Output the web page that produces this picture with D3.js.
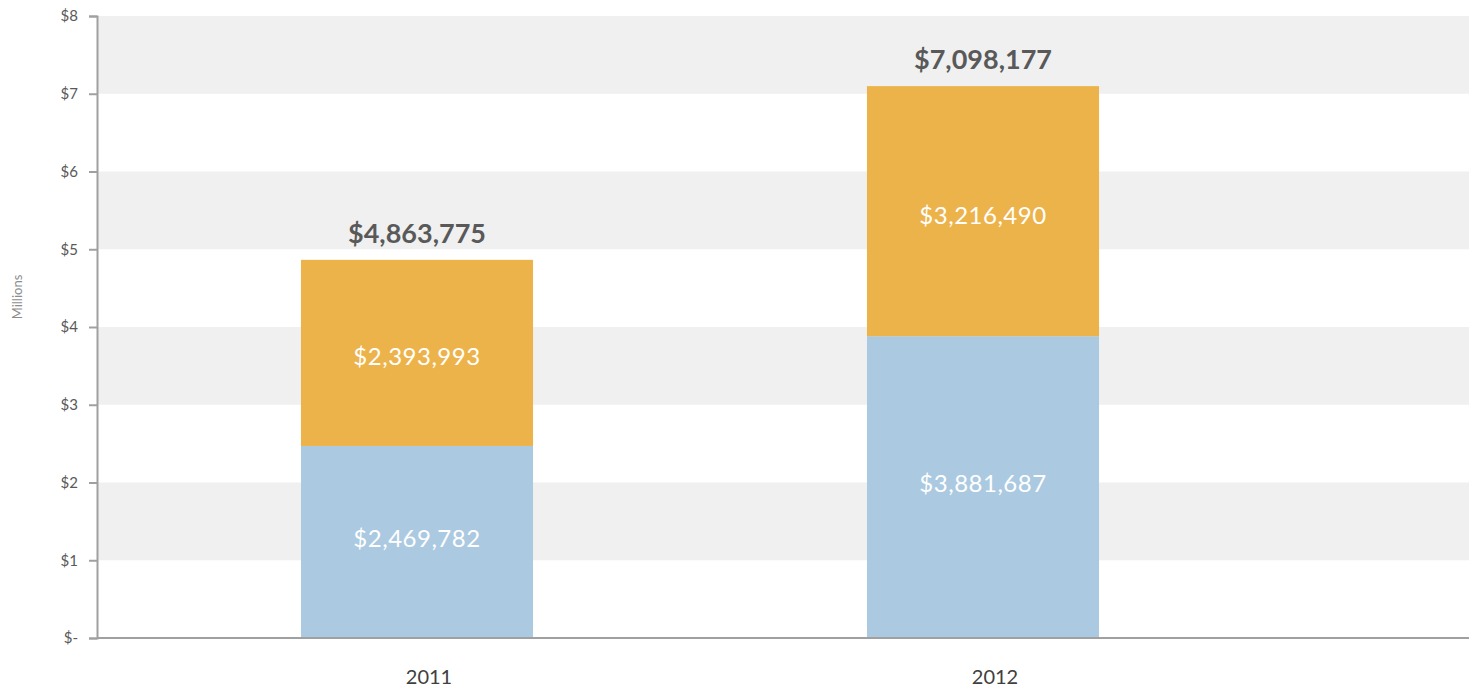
<!DOCTYPE html>
<html><head><meta charset="utf-8">
<script src="https://cdn.jsdelivr.net/npm/d3@7"></script>
<style>body{margin:0;background:#fff;}svg{display:block;font-family:Lato,"Open Sans",sans-serif;}</style>
</head><body>
<svg id="chart" width="1477" height="690"></svg>
<script>
const categories = ["2011", "2012"];
const seriesBlue = [2469782, 3881687];
const seriesOrange = [2393993, 3216490];
const totals = [4863775, 7098177];
const yTicks = [0,1,2,3,4,5,6,7,8];
const yTickLabels = ["$-","$1","$2","$3","$4","$5","$6","$7","$8"];

(function(){
const svg = d3.select("#chart");
const pLeft = 97, pRight = 1469, pTop = 16, pBottom = 638;
const y = d3.scaleLinear().domain([0, 8]).range([pBottom, pTop]);
const x = d3.scaleBand().domain(categories).range([134, 1266]).paddingInner(0.59).paddingOuter(0.295);

for (let i = 0; i < 8; i++) {
  if (i % 2 === 1) {
    svg.append("rect").attr("x", pLeft).attr("width", pRight - pLeft)
      .attr("y", y(i + 1)).attr("height", y(i) - y(i + 1)).attr("fill", "#f0f0f0");
  }
}

const toM = v => v / 1e6;
const fmt = v => "$" + d3.format(",")(v);
categories.forEach((c, i) => {
  const b = toM(seriesBlue[i]), t = toM(seriesBlue[i] + seriesOrange[i]);
  svg.append("rect").attr("x", x(c)).attr("width", x.bandwidth())
    .attr("y", y(b)).attr("height", y(0) - y(b)).attr("fill", "#abcae1");
  svg.append("rect").attr("x", x(c)).attr("width", x.bandwidth())
    .attr("y", y(t)).attr("height", y(b) - y(t)).attr("fill", "#edb34b");
  const cx = x(c) + x.bandwidth() / 2;
  svg.append("text").attr("x", cx).attr("y", (y(0) + y(b)) / 2 - 3).attr("dy", "0.35em")
    .attr("text-anchor", "middle").attr("fill", "#fff").attr("font-size", 24).attr("letter-spacing", 0.5).text(fmt(seriesBlue[i]));
  svg.append("text").attr("x", cx).attr("y", (y(b) + y(t)) / 2 + 4).attr("dy", "0.35em")
    .attr("text-anchor", "middle").attr("fill", "#fff").attr("font-size", 24).attr("letter-spacing", 0.5).text(fmt(seriesOrange[i]));
  svg.append("text").attr("x", cx).attr("y", y(toM(totals[i])) - 17)
    .attr("text-anchor", "middle").attr("fill", "#595959").attr("font-size", 27).attr("font-weight", "bold").text(fmt(totals[i]));
  svg.append("text").attr("x", cx + 12).attr("y", 684)
    .attr("text-anchor", "middle").attr("fill", "#404040").attr("font-size", 20).text(c);
});

const yAxis = d3.axisLeft(y).tickValues(yTicks).tickFormat((d, i) => yTickLabels[i]).tickSize(8).tickPadding(11);
const g = svg.append("g").attr("transform", `translate(${pLeft},0)`).call(yAxis);
g.select(".domain").attr("stroke", "#a0a0a0").attr("stroke-width", 2);
g.selectAll(".tick line").attr("stroke", "#a0a0a0").attr("stroke-width", 2);
g.selectAll(".tick text").attr("fill", "#595959").attr("font-size", 15).attr("font-family", "Lato, sans-serif");
svg.append("line").attr("x1", pLeft).attr("x2", pRight).attr("y1", pBottom).attr("y2", pBottom).attr("stroke", "#a0a0a0").attr("stroke-width", 2);

svg.append("text").attr("transform", "translate(22,297) rotate(-90)").attr("text-anchor", "middle")
  .attr("fill", "#8c8c8c").attr("font-size", 13).text("Millions");
})();
</script>
</body></html>
